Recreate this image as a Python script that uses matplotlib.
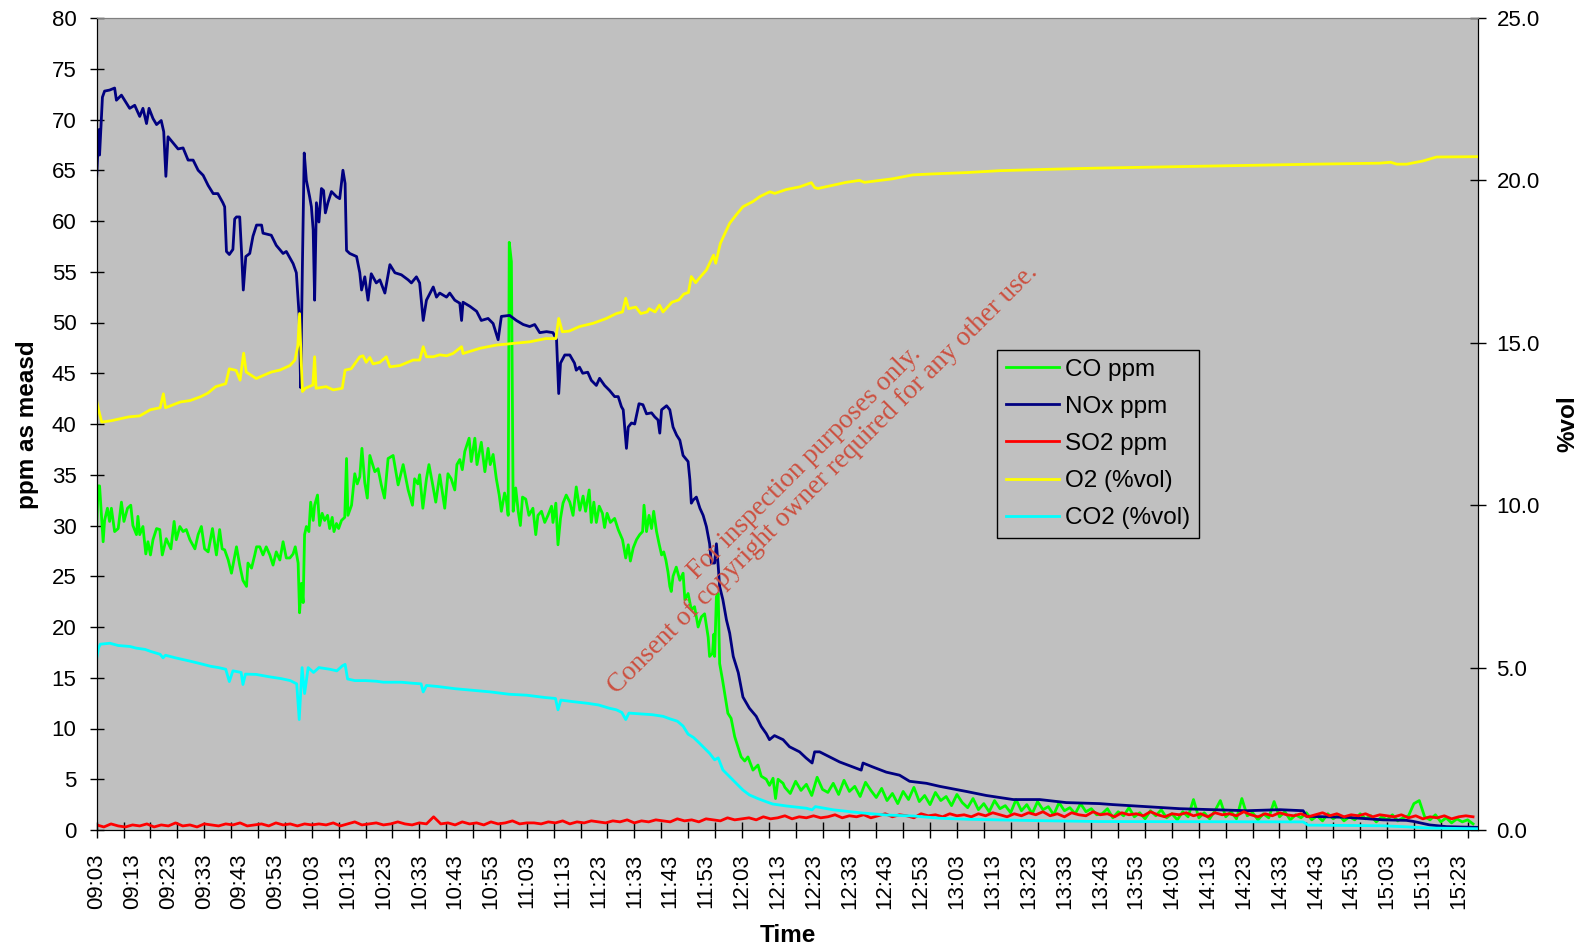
import numpy as np
import matplotlib
matplotlib.use("Agg")
import matplotlib.pyplot as plt

plt.rcParams["font.family"] = ["Liberation Sans", "DejaVu Sans"]

# ---- data (time in minutes after 09:03) ----
nox_pts = [
    (0, 64.4), (0.6, 69.0), (0.8, 66.5), (1.6, 72.2), (2.2, 72.8), (3.6, 72.9), (5.0, 73.1),
    (5.5, 71.9), (6.9, 72.4), (8.3, 71.6), (9.2, 71.1), (10.6, 71.4), (12.0, 70.3), (12.9, 71.1),
    (13.9, 69.6), (14.6, 71.1), (15.7, 70.1), (16.7, 69.5), (18.0, 69.9), (18.7, 68.8), (19.3, 64.4),
    (19.9, 68.3), (21.3, 67.7), (22.7, 67.1), (24.1, 67.2), (25.5, 66.0), (26.9, 66.0), (28.3, 65.0),
    (29.7, 64.5), (31.1, 63.5), (32.5, 62.7), (33.8, 62.7), (35.2, 61.8), (35.7, 61.4), (36.2, 57.0),
    (37.0, 56.7), (38.0, 57.2), (38.5, 60.2), (39.0, 60.4), (39.9, 60.4), (40.4, 57.0), (40.9, 53.2),
    (41.6, 56.5), (42.7, 56.8), (43.6, 58.5), (44.6, 59.6), (46.0, 59.6), (46.4, 58.8), (48.7, 58.6),
    (50.1, 57.6), (52.0, 56.8), (52.9, 57.0), (54.8, 55.8), (55.7, 54.9), (56.5, 50.6), (56.9, 43.6),
    (57.4, 55.8), (57.9, 66.7), (58.5, 64.0), (59.4, 62.4), (59.9, 61.4), (60.4, 59.1), (60.8, 52.2),
    (61.3, 61.8), (62.0, 59.9), (62.7, 63.2), (63.3, 63.0), (63.8, 60.8), (64.5, 61.8), (65.5, 62.9),
    (66.9, 62.4), (67.8, 62.2), (68.7, 65.0), (69.3, 63.7), (69.7, 57.1), (70.6, 56.8), (72.5, 56.5),
    (73.4, 54.9), (73.9, 53.2), (74.8, 54.5), (75.7, 52.2), (76.6, 54.8), (78.0, 53.9), (79.0, 54.2),
    (80.4, 52.9), (81.8, 55.7), (83.2, 54.9), (85.0, 54.7), (86.9, 54.2), (87.8, 53.9), (89.2, 54.5),
    (90.1, 53.9), (91.1, 50.2), (92.0, 52.2), (93.9, 53.5), (94.8, 52.5), (95.7, 52.9), (97.6, 52.5),
    (98.5, 52.9), (99.9, 52.2), (101.3, 51.9), (101.8, 50.2), (102.2, 52.0), (104.1, 51.6),
    (106.0, 51.1), (107.3, 50.2), (109.2, 50.4), (110.6, 49.9), (112.0, 48.3), (112.9, 50.6),
    (115.2, 50.7), (117.1, 50.2), (119.0, 49.8), (120.8, 49.6), (122.2, 49.8), (123.6, 49.0),
    (125.5, 49.1), (127.3, 49.0), (128.3, 48.3), (128.9, 43.0), (129.4, 46.0), (130.6, 46.8),
    (132.0, 46.8), (133.3, 46.0), (133.8, 45.3), (134.7, 45.6), (135.6, 45.0), (137.0, 45.1),
    (138.0, 44.3), (139.4, 43.8), (140.3, 44.5), (141.7, 43.8), (143.1, 43.3), (144.5, 42.7),
    (145.5, 42.7), (146.4, 41.7), (146.9, 41.4), (147.8, 37.6), (148.3, 39.7), (149.2, 40.1),
    (150.1, 40.0), (151.3, 42.0), (152.4, 41.9), (153.4, 41.0), (154.8, 41.1), (155.7, 40.7),
    (156.6, 40.4), (157.1, 39.1), (157.6, 41.4), (159.0, 41.8), (159.9, 41.4), (160.8, 39.7),
    (161.8, 38.9), (162.7, 38.4), (163.6, 36.9), (165.0, 36.3), (165.5, 34.5), (165.9, 32.2),
    (166.4, 32.5), (167.3, 32.8), (168.3, 31.7), (169.2, 31.0), (170.1, 29.9), (171.0, 28.2),
    (171.5, 26.3), (172.4, 26.3), (172.9, 28.2), (173.4, 26.0), (173.8, 24.0), (174.7, 22.7),
    (175.7, 20.7), (176.6, 19.4), (177.6, 17.1), (179.0, 15.5), (180.3, 13.1), (182.1, 12.0),
    (184.0, 11.2), (185.4, 10.2), (186.8, 9.5), (187.7, 8.9), (189.1, 9.3), (191.5, 8.9),
    (193.3, 8.2), (196.1, 7.7), (197.9, 7.1), (199.6, 6.6), (200.3, 7.7), (201.7, 7.7), (204.5, 7.2),
    (207.3, 6.7), (211.0, 6.2), (213.3, 5.9), (213.8, 6.6), (216.6, 6.2), (220.3, 5.7), (224.0, 5.4),
    (226.8, 4.8), (231.5, 4.6), (235.2, 4.3), (242.6, 3.8), (248.2, 3.4), (255.7, 3.0), (263.1, 3.0),
    (270.5, 2.7), (279.8, 2.6), (283.6, 2.5), (292.9, 2.3), (302.2, 2.1), (311.5, 2.0), (320.8, 1.9),
    (330.1, 2.0), (336.6, 1.9), (337.5, 1.35), (348.7, 1.25), (358.9, 1.0), (365.4, 0.95),
    (367.3, 0.85), (371.9, 0.5), (376.6, 0.33), (385.0, 0.26),
]

co_pts = [
    (0, 30.0), (0.4, 33.9), (0.8, 33.9), (1.3, 31.2), (1.8, 28.4), (2.2, 30.5), (3.0, 31.7),
    (3.6, 30.4), (4.1, 31.7), (5.0, 29.4), (6.0, 29.7), (6.9, 32.3), (7.6, 30.4), (8.6, 31.7),
    (9.5, 32.0), (10.1, 30.0), (11.1, 29.1), (11.5, 30.9), (12.0, 29.1), (12.9, 29.9), (13.7, 27.2),
    (14.3, 28.4), (15.0, 27.1), (15.7, 28.6), (16.7, 29.7), (17.6, 29.6), (18.3, 27.1), (19.4, 28.7),
    (20.7, 27.7), (21.6, 30.4), (22.2, 28.6), (23.2, 29.9), (24.1, 29.4), (25.0, 29.6), (26.0, 28.6),
    (27.4, 27.7), (28.3, 29.1), (29.2, 29.9), (30.1, 27.7), (31.1, 27.4), (32.3, 29.7), (33.4, 27.1),
    (34.3, 29.6), (35.0, 27.7), (35.7, 27.6), (36.7, 26.6), (37.6, 25.3), (39.0, 27.9), (39.9, 26.1),
    (40.8, 24.6), (41.8, 24.0), (42.2, 26.3), (43.2, 25.8), (44.1, 27.1), (44.6, 27.9), (45.5, 27.9),
    (46.4, 27.1), (47.3, 27.9), (48.3, 27.1), (49.2, 26.1), (50.1, 27.4), (51.1, 26.6), (52.0, 28.4),
    (52.9, 26.8), (53.9, 26.8), (54.8, 27.2), (55.4, 27.9), (56.2, 26.3), (56.6, 21.4), (57.1, 24.3),
    (57.6, 22.4), (58.0, 29.1), (58.5, 29.9), (59.2, 29.4), (59.7, 32.3), (60.4, 30.5), (60.8, 32.0),
    (61.6, 33.0), (62.2, 30.0), (62.9, 31.2), (63.6, 30.5), (64.4, 31.0), (65.0, 29.7), (65.7, 30.8),
    (66.2, 29.4), (66.9, 30.2), (67.5, 29.7), (68.3, 30.5), (69.2, 30.8), (69.7, 36.6), (70.1, 31.0),
    (71.1, 32.0), (72.0, 35.1), (72.7, 34.1), (73.4, 34.8), (74.0, 37.6), (74.8, 34.2), (75.5, 32.7),
    (76.2, 36.9), (77.6, 35.3), (78.5, 35.6), (79.4, 34.0), (80.3, 32.7), (81.3, 36.6), (82.7, 36.9),
    (84.1, 34.0), (85.5, 36.0), (86.9, 33.5), (88.1, 32.0), (88.7, 34.6), (89.6, 34.1), (90.1, 35.0),
    (91.0, 31.7), (92.0, 34.6), (92.7, 36.0), (93.8, 33.9), (94.6, 32.3), (95.7, 35.0), (97.1, 31.7),
    (98.0, 35.1), (98.9, 34.6), (99.9, 33.5), (100.5, 36.0), (101.3, 36.5), (102.0, 35.5),
    (102.7, 37.3), (103.9, 38.6), (104.5, 36.3), (105.5, 38.6), (106.1, 36.0), (107.3, 38.2),
    (108.3, 35.3), (109.2, 37.6), (109.8, 36.0), (110.6, 37.0), (111.5, 34.6), (112.3, 33.0),
    (112.9, 31.4), (113.8, 33.2), (114.3, 32.5), (114.8, 31.0), (115.1, 57.9), (115.7, 56.0),
    (116.2, 31.4), (116.9, 33.7), (117.6, 31.4), (118.2, 30.0), (118.8, 32.8), (119.7, 32.6),
    (120.6, 31.0), (121.7, 31.7), (122.5, 29.1), (123.1, 31.0), (124.1, 31.4), (125.0, 30.3),
    (125.9, 31.0), (126.9, 31.9), (127.3, 30.3), (128.1, 32.2), (128.7, 28.1), (129.4, 30.7),
    (130.1, 32.2), (131.0, 33.0), (132.0, 32.3), (132.9, 31.0), (133.8, 33.8), (134.8, 31.5),
    (135.7, 32.9), (136.4, 31.4), (137.4, 33.5), (138.0, 30.3), (138.7, 32.3), (139.4, 30.3),
    (140.2, 31.9), (141.1, 31.2), (141.7, 29.8), (142.4, 31.2), (143.3, 30.3), (144.5, 30.7),
    (145.5, 29.6), (146.7, 28.6), (147.6, 26.8), (148.3, 28.1), (148.9, 26.5), (149.7, 27.8),
    (150.6, 28.6), (151.5, 29.1), (152.3, 29.4), (152.7, 32.0), (153.4, 29.4), (154.1, 31.0),
    (154.8, 29.7), (155.4, 31.4), (156.2, 29.4), (156.9, 28.2), (157.6, 27.1), (158.2, 27.4),
    (158.8, 26.6), (159.4, 25.4), (159.9, 24.0), (160.3, 23.5), (160.8, 25.0), (161.7, 25.9),
    (162.7, 24.6), (163.6, 25.3), (164.1, 22.7), (165.0, 23.3), (165.9, 21.7), (166.8, 22.0),
    (167.8, 20.0), (168.7, 21.0), (169.6, 21.3), (170.6, 19.0), (171.0, 17.1), (171.8, 17.4),
    (172.2, 19.3), (172.4, 17.1), (172.9, 23.0), (173.4, 23.3), (173.8, 16.4), (174.6, 14.8),
    (175.2, 13.5), (176.1, 11.5), (177.0, 11.0), (178.0, 9.2), (178.9, 8.2), (179.8, 7.2),
    (180.8, 6.8), (181.7, 7.2), (183.1, 5.9), (184.5, 6.4), (185.4, 5.3), (186.8, 5.0), (187.7, 4.4),
    (188.7, 5.1), (189.4, 3.1), (190.1, 5.0), (191.5, 4.6),
]
# CO from 12:15 on, one reading every 1.5 min
co_tail_start = 192.0
co_tail = [
    4.2, 3.6, 4.8, 3.9, 4.5, 3.4, 5.2, 4.0, 3.7, 4.6, 3.5, 4.9, 3.8, 4.3, 3.3, 4.7, 3.9,
    3.2, 4.1, 2.9, 3.6, 2.6, 3.8, 3.0, 4.2, 2.8, 3.4, 2.5, 3.7, 2.9, 3.3, 2.4, 3.5, 2.7,
    2.2, 3.1, 2.0, 2.6, 1.8, 2.9, 2.1, 2.4, 1.7, 3.0, 1.9, 2.5, 1.6, 2.8, 2.0, 2.3, 1.5, 2.7,
    1.9, 2.2, 1.6, 2.6, 1.8, 2.1, 1.5,
    1.6, 2.1, 1.2, 1.8, 1.4, 2.2, 1.3, 1.7, 1.1, 1.9, 1.4, 2.0, 1.2, 1.6, 1.0, 1.8, 1.3, 3.0, 1.2, 1.7,
    1.1, 1.9, 2.9, 1.3, 1.8, 1.1, 3.1, 1.4, 1.7, 1.0, 1.6, 1.2, 2.8, 1.3, 1.8, 1.0, 1.5, 1.2, 1.7, 1.0,
    1.4, 0.9, 1.6, 1.1, 1.5, 0.9, 1.3, 1.0, 1.6, 1.1, 1.4, 0.8, 1.3, 1.0, 1.5, 0.9, 1.2, 1.4, 2.6, 2.9,
    1.3, 1.0, 1.5, 0.8, 1.2, 0.7, 1.1, 0.8, 1.0, 0.6,
]

# SO2, one reading every 2 min from 09:03
so2_step = 2.0
so2_vals = [
    0.5, 0.3, 0.6, 0.4, 0.3, 0.5, 0.4, 0.6, 0.3, 0.5, 0.4, 0.7, 0.4, 0.5, 0.3, 0.6, 0.5, 0.4, 0.6, 0.5,
    0.7, 0.4, 0.5, 0.6, 0.4, 0.7, 0.5, 0.6, 0.4, 0.6, 0.5,
    0.6, 0.5, 0.7, 0.4, 0.6, 0.8, 0.5, 0.6, 0.7, 0.5, 0.6, 0.8, 0.6, 0.5, 0.7, 0.6, 1.3, 0.6, 0.7, 0.5,
    0.8, 0.6, 0.7, 0.5, 0.8, 0.6, 0.7, 0.9, 0.6, 0.7,
    0.7, 0.6, 0.8, 0.7, 0.9, 0.6, 0.8, 0.7, 0.9, 0.8, 0.7, 0.9, 0.8, 1.0, 0.7, 0.9, 0.8, 1.0, 0.9, 0.8,
    1.1, 0.9, 1.0, 0.8, 1.1, 1.0, 0.9, 1.2, 1.0, 1.1,
    1.2, 1.0, 1.3, 1.1, 1.2, 1.4, 1.1, 1.3, 1.2, 1.4, 1.2, 1.3, 1.5, 1.2, 1.4, 1.3, 1.5, 1.2, 1.4, 1.6,
    1.3, 1.5, 1.4, 1.2, 1.6, 1.4, 1.5, 1.3, 1.6, 1.4,
    1.5, 1.3, 1.6, 1.4, 1.7, 1.5, 1.3, 1.6, 1.4, 1.7, 1.5, 1.8, 1.4, 1.6, 1.3, 1.7, 1.5, 1.4, 1.8, 1.5,
    1.6, 1.3, 1.7, 1.5, 1.6, 1.4, 1.8, 1.5, 1.3, 1.6,
    1.5, 1.7, 1.4, 1.6, 1.3, 1.7, 1.5, 1.6, 1.4, 1.8, 1.5, 1.3, 1.6, 1.4, 1.7, 1.5, 1.4, 1.6, 1.3, 1.5,
    1.7, 1.4, 1.6, 1.3, 1.5, 1.4, 1.6, 1.3, 1.5, 1.4,
    1.3, 1.5, 1.2, 1.4, 1.1, 1.3, 1.2, 1.4, 1.1, 1.3, 1.4, 1.3,
]

o2_pts = [
    (0, 13.2), (0.5, 12.95), (1.4, 12.56), (4, 12.6), (6.5, 12.66), (9, 12.72), (12, 12.75),
    (15, 12.94), (17.7, 13.0), (18.6, 13.43), (19.2, 13.0), (23.4, 13.18), (26, 13.22), (29, 13.34),
    (31, 13.45), (33.2, 13.65), (36, 13.74), (37, 14.2), (38.9, 14.15), (40, 13.85), (41, 14.68),
    (41.7, 14.1), (44.5, 13.9), (48.7, 14.1), (51.1, 14.16), (53.9, 14.3), (55.3, 14.47),
    (56.1, 14.9), (56.6, 15.9), (57.0, 14.6), (57.4, 13.5), (58.2, 13.6), (60.3, 13.7),
    (60.8, 14.57), (61.2, 13.6), (64, 13.65), (66, 13.55), (68.5, 13.6), (69.3, 14.16), (71, 14.2),
    (73.4, 14.57), (74.3, 14.6), (75.2, 14.4), (76.2, 14.55), (77.1, 14.35), (79, 14.4),
    (80.8, 14.57), (81.8, 14.26), (84.6, 14.3), (88.3, 14.47), (90.1, 14.47), (91.1, 14.88),
    (92, 14.57), (93.9, 14.57), (95.7, 14.63), (97.6, 14.6), (99.4, 14.67), (101.8, 14.88),
    (102.2, 14.67), (106.9, 14.83), (111.5, 14.93), (116, 14.98), (120.8, 15.03), (125.3, 15.13),
    (128.1, 15.13), (128.9, 15.75), (129.4, 15.55), (129.9, 15.34), (131.8, 15.36), (134.7, 15.5),
    (138.5, 15.6), (142.2, 15.75), (145, 15.9), (146.7, 15.95), (147.6, 16.37), (148.4, 16.05),
    (150.4, 16.1), (151.8, 15.9), (153.6, 15.95), (154.1, 16.05), (155.8, 15.95), (157, 16.16),
    (158, 15.95), (160.5, 16.25), (162.4, 16.32), (163.8, 16.5), (165.1, 16.55), (165.9, 17.04),
    (167.1, 16.85), (168.2, 17.0), (170.1, 17.24), (171, 17.45), (172.1, 17.7), (172.7, 17.45),
    (174, 18.06), (175.2, 18.35), (176.6, 18.68), (178.5, 18.95), (180.3, 19.19), (183.1, 19.35),
    (185, 19.5), (187.8, 19.65), (189.2, 19.6), (192.4, 19.72), (196.1, 19.8), (199.4, 19.93),
    (200.3, 19.78), (201.2, 19.75), (204.5, 19.83), (209.1, 19.94), (212.8, 20.0), (214.2, 19.94),
    (219.3, 20.01), (222.1, 20.05), (227.7, 20.17), (233.3, 20.2), (242.6, 20.24), (252, 20.3),
    (265, 20.34), (280, 20.38), (295, 20.41), (310, 20.44), (325, 20.47), (340, 20.5), (358, 20.53),
    (361, 20.56), (362.7, 20.5), (365.5, 20.5), (370.1, 20.6), (373.8, 20.72), (385, 20.73),
]

co2_pts = [
    (0, 5.29), (0.5, 5.6), (1, 5.72), (3.7, 5.75), (6, 5.68), (9.3, 5.65), (11, 5.6), (13.5, 5.56),
    (15, 5.5), (17.7, 5.41), (18.5, 5.3), (19.2, 5.38), (22, 5.3), (26, 5.2), (29, 5.12),
    (31.8, 5.04), (34, 5.0), (36, 4.95), (37, 4.57), (38, 4.9), (39, 4.88), (40.3, 4.85),
    (40.8, 4.48), (41.5, 4.8), (44.5, 4.79), (48, 4.72), (51.5, 4.66), (54, 4.6), (55.8, 4.5),
    (56.5, 3.4), (57.3, 5.0), (58, 4.2), (59, 5.0), (60.5, 4.85), (62, 5.0), (65, 4.95), (67, 4.9),
    (68.5, 5.05), (69.3, 5.1), (70, 4.65), (72, 4.6), (75, 4.6), (78, 4.58), (80, 4.55), (85, 4.55),
    (88, 4.52), (90.5, 4.5), (91.1, 4.25), (92, 4.45), (95, 4.42), (100, 4.35), (105, 4.3),
    (110, 4.25), (115, 4.18), (120, 4.15), (125, 4.08), (128, 4.05), (128.7, 3.7), (129.5, 4.0),
    (133, 3.95), (137, 3.9), (140, 3.85), (143, 3.75), (145, 3.7), (146.5, 3.62), (147.6, 3.4),
    (148.5, 3.6), (151, 3.58), (155, 3.55), (158, 3.5), (160, 3.42), (162, 3.35), (163.6, 3.2),
    (165, 2.95), (166.5, 2.85), (168.2, 2.67), (171, 2.36), (172.4, 2.16), (173.4, 2.22),
    (174.7, 1.85), (176.6, 1.64), (178.4, 1.44), (180.3, 1.23), (182.1, 1.08), (184.4, 0.97),
    (186.8, 0.87), (188.6, 0.8), (192.4, 0.74), (198, 0.67), (199.6, 0.62), (200.5, 0.72),
    (205.6, 0.62), (213, 0.53), (220.5, 0.46), (228, 0.43), (235.5, 0.36), (243, 0.33),
    (252.3, 0.31), (261.6, 0.29), (280, 0.26), (336.6, 0.25), (338, 0.15), (358.9, 0.13),
    (365, 0.1), (372, 0.06), (385, 0.04),
]

tick_labels = [
    "09:03", "09:13", "09:23", "09:33", "09:43", "09:53", "10:03", "10:13", "10:23", "10:33",
    "10:43", "10:53", "11:03", "11:13", "11:23", "11:33", "11:43", "11:53", "12:03", "12:13",
    "12:23", "12:33", "12:43", "12:53", "13:03", "13:13", "13:23", "13:33", "13:43", "13:53",
    "14:03", "14:13", "14:23", "14:33", "14:43", "14:53", "15:03", "15:13", "15:23",
]

# ---- build series ----
nox_t, nox_v = zip(*nox_pts)
co_t, co_v = zip(*co_pts)
co_t = list(co_t) + list(co_tail_start + 1.5 * np.arange(len(co_tail)))
co_v = list(co_v) + co_tail
so2_t = so2_step * np.arange(len(so2_vals))
o2_t, o2_v = zip(*o2_pts)
co2_t, co2_v = zip(*co2_pts)

# ---- figure ----
W, H = 1583, 948
fig = plt.figure(figsize=(W / 100, H / 100), dpi=100)
ax = fig.add_axes([96.7 / W, 1 - 830 / H, (1477.7 - 96.7) / W, (830 - 18) / H])
ax.set_facecolor("#c0c0c0")
ax2 = ax.twinx()

lw = 2.0
l_co, = ax.plot(co_t, co_v, color="#00ff00", lw=lw, label="CO ppm")
l_nox, = ax.plot(nox_t, nox_v, color="#000080", lw=lw, label="NOx ppm")
l_so2, = ax.plot(so2_t, so2_vals, color="#ff0000", lw=lw, label="SO2 ppm")
l_o2, = ax2.plot(o2_t, o2_v, color="#ffff00", lw=lw, label="O2 (%vol)")
l_co2, = ax2.plot(co2_t, co2_v, color="#00ffff", lw=lw, label="CO2 (%vol)")

ax.set_xlim(0, 385.3)
ax.set_ylim(0, 80)
ax2.set_ylim(0, 25)

ax.set_yticks(np.arange(0, 81, 5))
ax2.set_yticks(np.arange(0, 26, 5))
ax2.set_yticklabels([f"{v:.1f}" for v in np.arange(0, 26, 5)])

# labels every 10 min (major, no mark), tick marks every 7.5 min (minor)
ax.xaxis.remove_overlapping_locs = False
ax.set_xticks(np.arange(len(tick_labels)) * 10)
ax.set_xticklabels(tick_labels, rotation=90, fontsize=16)
ax.set_xticks(np.arange(0, 386, 7.5), minor=True)
ax.tick_params(axis="x", which="major", length=0, pad=17)
ax.tick_params(axis="x", which="minor", direction="inout", length=11, width=1)
ax.tick_params(axis="y", direction="inout", length=10, width=1, labelsize=16, pad=9.5)
ax2.tick_params(axis="y", direction="inout", length=11, width=1, labelsize=16, pad=8)

for a in (ax, ax2):
    a.spines["top"].set_color("#808080")
    a.spines["left"].set_color("black")
    a.spines["bottom"].set_color("black")
    a.spines["right"].set_color("black")

fig.text(27.3 / W, 1 - 425 / H, "ppm as measd", rotation=90, ha="center", va="center",
         fontsize=17.5, fontweight="bold")
fig.text(787.5 / W, 1 - 935 / H, "Time", ha="center", va="center",
         fontsize=17.5, fontweight="bold")
fig.text(1568 / W, 1 - 424 / H, "%vol", rotation=90, ha="center", va="center",
         fontsize=17.5, fontweight="bold")

leg = ax2.legend(
    handles=[l_co, l_nox, l_so2, l_o2, l_co2],
    loc="upper left", bbox_to_anchor=(0.652, 0.5908),
    fontsize=17.5, frameon=True, fancybox=False, framealpha=1,
    facecolor="#c0c0c0", edgecolor="black",
    handlelength=2.2, handletextpad=0.25, labelspacing=0.62, borderpad=0.35,
    borderaxespad=0,
)
leg.get_frame().set_linewidth(1.0)

# watermark
wm_color = "#cc5040"
fig.text(809 / W, 1 - 467 / H, "For inspection purposes only.", rotation=45,
         rotation_mode="anchor", ha="center", va="baseline", color=wm_color,
         fontsize=19.5, family=["Liberation Serif", "DejaVu Serif"])
fig.text(828 / W, 1 - 483.6 / H, "Consent of copyright owner required for any other use.",
         rotation=45, rotation_mode="anchor", ha="center", va="baseline", color=wm_color,
         fontsize=19.5, family=["Liberation Serif", "DejaVu Serif"])

fig.savefig("out.png", dpi=100)
